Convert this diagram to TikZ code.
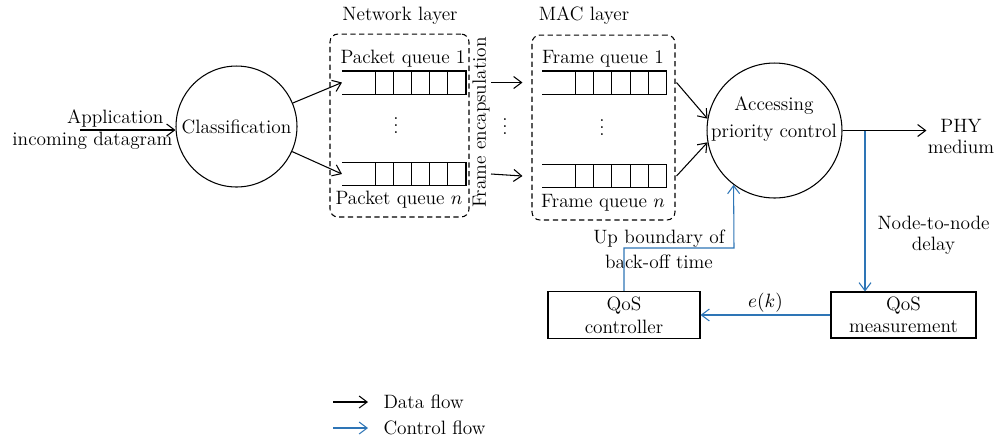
\documentclass[tikz,border=0pt]{standalone}
\usepackage{tikz}
\usetikzlibrary{arrows.meta}
\definecolor{ctrlblue}{RGB}{46,117,182}

\begin{document}
\begin{tikzpicture}[x=0.02cm,y=-0.02cm,line width=0.6pt,>={Straight Barb[length=1.6mm,width=2.4mm]},font=\fontsize{11}{13}\selectfont,
  main node/.style={circle,draw,inner sep=0},
  layer box/.style={draw,dash pattern=on 3pt off 2pt,rounded corners=4.5pt,inner sep=0},
  queue/.style={rectangle,minimum width=2.46cm,minimum height=0.44cm,inner sep=0},
  block/.style={draw,rectangle,align=center,inner sep=0},
  data/.style={->},
  ctrl/.style={->,draw=ctrlblue}]

      \useasboundingbox (0,0) rectangle (997,441);

      \coordinate (0) at (80,130);
      \node[main node,minimum size=2.42cm] at (236.5,126.5) (1) {Classification};
      \node[layer box,minimum width=2.78cm,minimum height=3.66cm] at (399.5,125.5) (2) {};
      \node[queue] at (404,82.5) (3) {};
      \node[queue] at (404,174) (4) {};
      \node[rotate=90] at (481,122.5) (5) {Frame encapsulation};
      \node[queue] at (604.5,82.5) (6) {};
      \node[queue] at (604.5,176) (7) {};
      \node[layer box,minimum width=2.86cm,minimum height=3.7cm] at (603.5,127.5) (8) {};
      \node[main node,minimum size=2.7cm] at (774.5,130.5) (9) {};
      \node[align=center] at (774,119) (10) {Accessing\\[2.4pt]priority control};
      \node[align=center,inner sep=0.5pt] at (961,136.5) (11) {PHY\\[-0.5pt]medium};
      \coordinate (12) at (865,130.5);
      \node[block,minimum width=2.9cm,minimum height=0.92cm] at (903.5,315) (13) {QoS\\[-0.5pt]measurement};
      \node[block,minimum width=3.04cm,minimum height=0.94cm] at (624,315) (14) {QoS\\controller};
      \coordinate (15) at (734,248);
      \node[align=center] at (659,249) (16) {Up boundary of\\[1.2pt]back-off time};

      \node[anchor=base] at (400,20) (17) {Network layer};
      \node[anchor=base] at (584,20) (18) {MAC layer};
      \node[anchor=base] at (403,63) (19) {Packet queue 1};
      \node[anchor=base] at (399,204) (20) {Packet queue $n$};
      \node[anchor=base] at (603,63) (21) {Frame queue 1};
      \node[anchor=base] at (603,207) (22) {Frame queue $n$};
      \node at (396,120) (23) {$\vdots$};
      \node at (505,121) (24) {$\vdots$};
      \node at (602,122) (25) {$\vdots$};
      \node[align=center] at (933.5,235) (26) {Node-to-node\\[-1pt]delay};

      \foreach \q in {3,4,6,7} {
        \draw (\q.north west) -- (\q.north east) -- (\q.south east) -- (\q.south west);
        \foreach \i in {1,...,5}
          \draw ([xshift=-\i*0.364cm]\q.north east) -- ([xshift=-\i*0.364cm]\q.south east);
      }

      \path
      (0) edge[data] node[above,pos=0.37,inner sep=1pt] (0a) {Application} node[below,pos=0.13,inner sep=1pt] (0b) {incoming datagram} (1.west |- 0)
      (1) edge[data] (3.west)
      (1) edge[data] (4.west)
      ([xshift=0.5cm]3.east) edge[data] ([xshift=-0.4cm]6.west)
      ([xshift=0.5cm]4.east) edge[data] ([xshift=-0.4cm]7.west)
      ([xshift=0.2cm]6.east) edge[data] (9.170)
      ([xshift=0.2cm]7.east) edge[data] (9.190)
      (9) edge[data] (9 -| 11.west)
      (12) edge[ctrl] (12 |- 13.north)
      (13) edge[ctrl] node[above,inner sep=1pt] (13a) {$e(k)$} (14)
      ;
      \draw[ctrl] (14.north) |- (15) -- (9.233);

      \coordinate (27) at (333,402);
      \coordinate (28) at (333,428);
      \draw[data] (27) -- ++(35,0) node[right=0.3cm,inner sep=0] (29) {Data flow};
      \draw[ctrl] (28) -- ++(35,0) node[right=0.3cm,inner sep=0,text=black] (30) {Control flow};

    \end{tikzpicture}
\end{document}
